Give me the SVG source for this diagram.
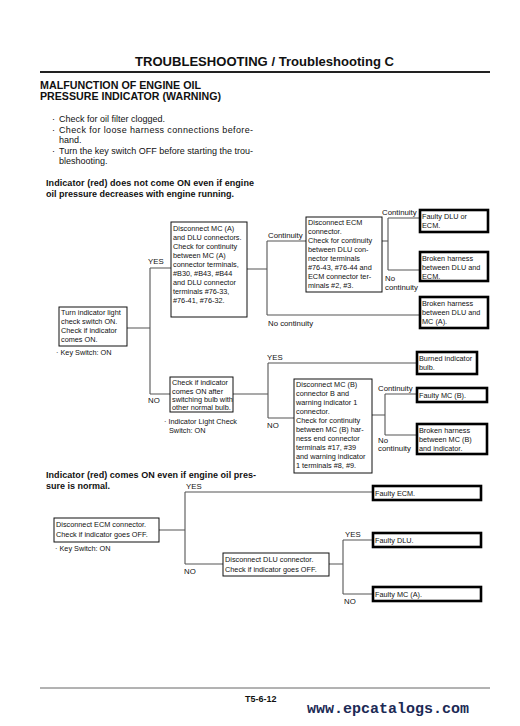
<svg xmlns="http://www.w3.org/2000/svg" width="520" height="726" viewBox="0 0 520 726">
<style>
text{font-family:"Liberation Sans",Arial,sans-serif;fill:#111}
.bt{font-size:7.3px}
.lb{font-size:7.8px}
.bx{fill:#fff;stroke:#111;stroke-width:1}
.rs{fill:#fff;stroke:#000;stroke-width:2.6}
.cn{fill:none;stroke:#555;stroke-width:1.1}
.tx{font-size:9px}
.hd{font-size:9px;font-weight:bold}
</style>
<rect width="520" height="726" fill="#fff"/>
<g id="header">
<text x="135" y="66" font-size="13" font-weight="bold" textLength="259" lengthAdjust="spacingAndGlyphs">TROUBLESHOOTING / Troubleshooting C</text>
<line x1="40" y1="72" x2="490" y2="72" stroke="#222" stroke-width="2"/>
<text x="40" y="89" font-size="10" font-weight="bold" textLength="161" lengthAdjust="spacingAndGlyphs">MALFUNCTION OF ENGINE OIL</text>
<text x="40" y="99.5" font-size="10" font-weight="bold" textLength="181" lengthAdjust="spacingAndGlyphs">PRESSURE INDICATOR (WARNING)</text>
<text class="tx" x="52" y="122">·</text><text class="tx" x="59" y="122">Check for oil filter clogged.</text>
<text class="tx" x="52" y="133">·</text><text class="tx" x="59" y="133" textLength="194" lengthAdjust="spacing">Check for loose harness connections before-</text>
<text class="tx" x="59" y="143">hand.</text>
<text class="tx" x="52" y="154">·</text><text class="tx" x="59" y="154" textLength="194" lengthAdjust="spacing">Turn the key switch OFF before starting the trou-</text>
<text class="tx" x="59" y="164">bleshooting.</text>
<text class="hd" x="46" y="186" textLength="208" lengthAdjust="spacing">Indicator (red) does not come ON even if engine</text>
<text class="hd" x="46" y="197">oil pressure decreases with engine running.</text>
<text class="hd" x="46" y="478" textLength="210" lengthAdjust="spacing">Indicator (red) comes ON even if engine oil pres-</text>
<text class="hd" x="46" y="489">sure is normal.</text>
</g>
<g id="connectors">
<path class="cn" d="M127 328H150M150 268V394M150 268H171M150 394H170"/>
<path class="cn" d="M247 269H267M267 241V315M267 241H306M267 315H420"/>
<path class="cn" d="M382 241H388M388 218V270M388 218H420M388 270H420"/>
<path class="cn" d="M233 394H268M268 363V418M268 363H417M268 418H294"/>
<path class="cn" d="M372 415H385M385 394V435M385 394H417M385 435H417"/>
<path class="cn" d="M159 530H185M185 492V564M185 492H373M185 564H223"/>
<path class="cn" d="M329 564H343M343 540V594M343 540H373M343 594H373"/>
<text class="lb" x="148" y="264">YES</text>
<text class="lb" x="148" y="403">NO</text>
<text class="lb" x="268" y="238">Continuity</text>
<text class="lb" x="268" y="326">No continuity</text>
<text class="lb" x="382" y="215">Continuity</text>
<text class="lb" x="385" y="281">No</text>
<text class="lb" x="385" y="290">continuity</text>
<text class="lb" x="267" y="360">YES</text>
<text class="lb" x="267" y="428">NO</text>
<text class="lb" x="378" y="391">Continuity</text>
<text class="lb" x="378" y="443">No</text>
<text class="lb" x="378" y="451">continuity</text>
<text class="lb" x="186" y="489">YES</text>
<text class="lb" x="184" y="574">NO</text>
<text class="lb" x="345" y="537">YES</text>
<text class="lb" x="344" y="604">NO</text>
</g>
<g id="n-turn">
<rect class="bx" x="59" y="307" width="68" height="39"/>
<text class="bt" x="61" y="315">Turn indicator light</text>
<text class="bt" x="61" y="324">check switch ON.</text>
<text class="bt" x="61" y="333">Check if indicator</text>
<text class="bt" x="61" y="342">comes ON.</text>
<text class="bt" x="56" y="355">· Key Switch: ON</text>
</g>
<g id="n-mca">
<rect class="bx" x="171" y="222" width="76" height="95"/>
<text class="bt" x="173" y="231">Disconnect MC (A)</text>
<text class="bt" x="173" y="240">and DLU connectors.</text>
<text class="bt" x="173" y="249">Check for continuity</text>
<text class="bt" x="173" y="258">between MC (A)</text>
<text class="bt" x="173" y="267">connector terminals,</text>
<text class="bt" x="173" y="276">#B30, #B43, #B44</text>
<text class="bt" x="173" y="285">and DLU connector</text>
<text class="bt" x="173" y="294">terminals #76-33,</text>
<text class="bt" x="173" y="303">#76-41, #76-32.</text>
</g>
<g id="n-ecm">
<rect class="bx" x="306" y="217" width="76" height="75"/>
<text class="bt" x="308" y="225">Disconnect ECM</text>
<text class="bt" x="308" y="234">connector.</text>
<text class="bt" x="308" y="243">Check for continuity</text>
<text class="bt" x="308" y="252">between DLU con-</text>
<text class="bt" x="308" y="261">nector terminals</text>
<text class="bt" x="308" y="270">#76-43, #76-44 and</text>
<text class="bt" x="308" y="279">ECM connector ter-</text>
<text class="bt" x="308" y="288">minals #2, #3.</text>
</g>
<g id="r-dlu-ecm">
<rect class="rs" x="420" y="210" width="68" height="22"/>
<text class="bt" x="422" y="219">Faulty DLU or</text>
<text class="bt" x="422" y="228">ECM.</text>
</g>
<g id="r-harness-dlu-ecm">
<rect class="rs" x="420" y="252" width="68" height="29"/>
<text class="bt" x="422" y="261">Broken harness</text>
<text class="bt" x="422" y="270">between DLU and</text>
<text class="bt" x="422" y="279">ECM.</text>
</g>
<g id="r-harness-dlu-mca">
<rect class="rs" x="420" y="297" width="68" height="31"/>
<text class="bt" x="422" y="306">Broken harness</text>
<text class="bt" x="422" y="315">between DLU and</text>
<text class="bt" x="422" y="324">MC (A).</text>
</g>
<g id="n-bulb">
<rect class="bx" x="170" y="377" width="63" height="35"/>
<text class="bt" x="172" y="385">Check if indicator</text>
<text class="bt" x="172" y="393.5">comes ON after</text>
<text class="bt" x="172" y="402">switching bulb with</text>
<text class="bt" x="172" y="410">other normal bulb.</text>
<text class="bt" x="164" y="424">· Indicator Light Check</text>
<text class="bt" x="169" y="433">Switch: ON</text>
</g>
<g id="r-burned">
<rect class="rs" x="417" y="352" width="60" height="22"/>
<text class="bt" x="419" y="361">Burned indicator</text>
<text class="bt" x="419" y="370">bulb.</text>
</g>
<g id="n-mcb">
<rect class="bx" x="294" y="379" width="78" height="94"/>
<text class="bt" x="296" y="387">Disconnect MC (B)</text>
<text class="bt" x="296" y="396">connector B and</text>
<text class="bt" x="296" y="405">warning indicator 1</text>
<text class="bt" x="296" y="414">connector.</text>
<text class="bt" x="296" y="423">Check for continuity</text>
<text class="bt" x="296" y="432">between MC (B) har-</text>
<text class="bt" x="296" y="441">ness end connector</text>
<text class="bt" x="296" y="450">terminals #17, #39</text>
<text class="bt" x="296" y="459">and warning indicator</text>
<text class="bt" x="296" y="468">1 terminals #8, #9.</text>
</g>
<g id="r-mcb">
<rect class="rs" x="417" y="388" width="70" height="14"/>
<text class="bt" x="419" y="398">Faulty MC (B).</text>
</g>
<g id="r-harness-mcb">
<rect class="rs" x="417" y="424" width="70" height="30"/>
<text class="bt" x="419" y="433">Broken harness</text>
<text class="bt" x="419" y="442">between MC (B)</text>
<text class="bt" x="419" y="451">and indicator.</text>
</g>
<g id="n-ecm2">
<rect class="bx" x="54" y="518" width="105" height="24"/>
<text class="bt" x="56" y="527">Disconnect ECM connector.</text>
<text class="bt" x="56" y="537">Check if indicator goes OFF.</text>
<text class="bt" x="55" y="551">· Key Switch: ON</text>
</g>
<g id="r-ecm">
<rect class="rs" x="373" y="486" width="108" height="14"/>
<text class="bt" x="375" y="496">Faulty ECM.</text>
</g>
<g id="n-dlu">
<rect class="bx" x="223" y="553" width="106" height="23"/>
<text class="bt" x="225" y="562">Disconnect DLU connector.</text>
<text class="bt" x="225" y="572">Check if indicator goes OFF.</text>
</g>
<g id="r-dlu">
<rect class="rs" x="373" y="533" width="108" height="14"/>
<text class="bt" x="375" y="543">Faulty DLU.</text>
</g>
<g id="r-mca">
<rect class="rs" x="373" y="587" width="108" height="14"/>
<text class="bt" x="375" y="597">Faulty MC (A).</text>
</g>
<g id="footer">
<line x1="40" y1="688" x2="490" y2="688" stroke="#666" stroke-width="1"/>
<text x="245" y="702" font-size="9" font-weight="bold">T5-6-12</text>
<text x="307" y="713" font-size="15" font-weight="bold" style="fill:#1c2a55;font-family:'Liberation Mono',monospace">www.epcatalogs.com</text>
</g>
</svg>
